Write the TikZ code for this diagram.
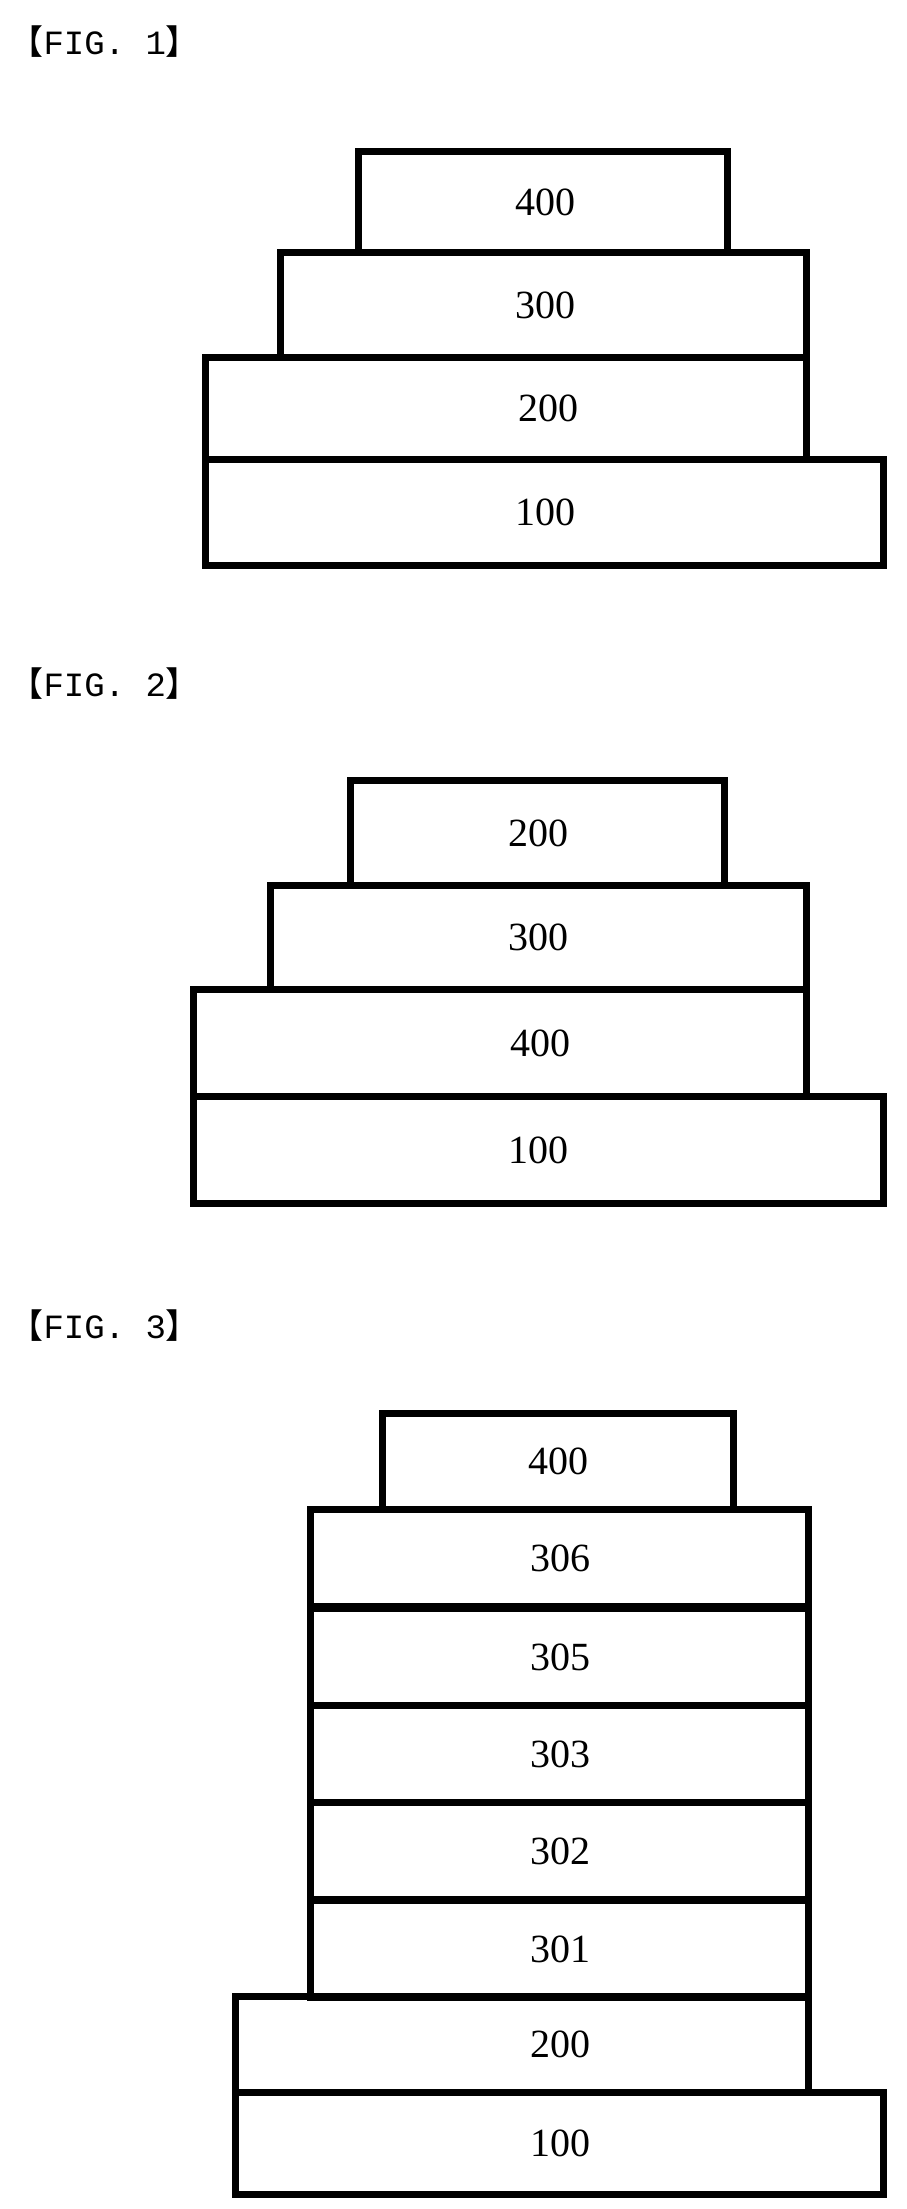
\documentclass[tikz,border=0pt]{standalone}
\usepackage{fontspec}
\setmainfont{Liberation Serif}
\newfontfamily\figmono{Liberation Mono}
\newfontfamily\cjk{Noto Sans CJK SC}
\begin{document}
\begin{tikzpicture}[x=1pt,y=-1pt,
    layer/.style={line width=7pt, line join=miter},
    num/.style={font=\fontsize{40}{40}\selectfont},
    figlbl/.style={anchor=west, font=\fontsize{34}{34}\figmono}]
	\useasboundingbox (0,0) rectangle (906,2209);
	% FIG. 1
	\node[figlbl] (t1) at (6,42) {{\cjk 【}FIG. 1{\cjk 】}};
	\draw[layer] (358,151) rectangle (727,252);
	\draw[layer] (280,252) rectangle (806,357);
	\draw[layer] (205,357) rectangle (806,459);
	\draw[layer] (205,459) rectangle (883,565);
	\node[num] (a400) at (545,202) {400};
	\node[num] (a300) at (545,305) {300};
	\node[num] (a200) at (548,408) {200};
	\node[num] (a100) at (545,512) {100};
	% FIG. 2
	\node[figlbl] (t2) at (6,684) {{\cjk 【}FIG. 2{\cjk 】}};
	\draw[layer] (350,780) rectangle (724,885);
	\draw[layer] (270,885) rectangle (806,989);
	\draw[layer] (193,989) rectangle (806,1096);
	\draw[layer] (193,1096) rectangle (883,1203);
	\node[num] (b200) at (538,833) {200};
	\node[num] (b300) at (538,937) {300};
	\node[num] (b400) at (540,1043) {400};
	\node[num] (b100) at (538,1150) {100};
	% FIG. 3
	\node[figlbl] (t3) at (6,1326) {{\cjk 【}FIG. 3{\cjk 】}};
	\draw[layer] (382,1413) rectangle (733,1509);
	\node[num] (c400) at (558,1461) {400};
      \foreach \lab/\y in {306/1509,305/1608,303/1705,302/1802,301/1900}
	  {
	      \draw[layer] (310,\y) rectangle (808,\y+97);
	      \node[num] (c\lab) at (560,\y+49) {\lab};
	  }
	\draw[layer] (235,1996) rectangle (808,2092);
	\draw[layer] (235,2092) rectangle (883,2194);
	\node[num] (c200) at (560,2044) {200};
	\node[num] (c100) at (560,2143) {100};
    \end{tikzpicture}
\end{document}
